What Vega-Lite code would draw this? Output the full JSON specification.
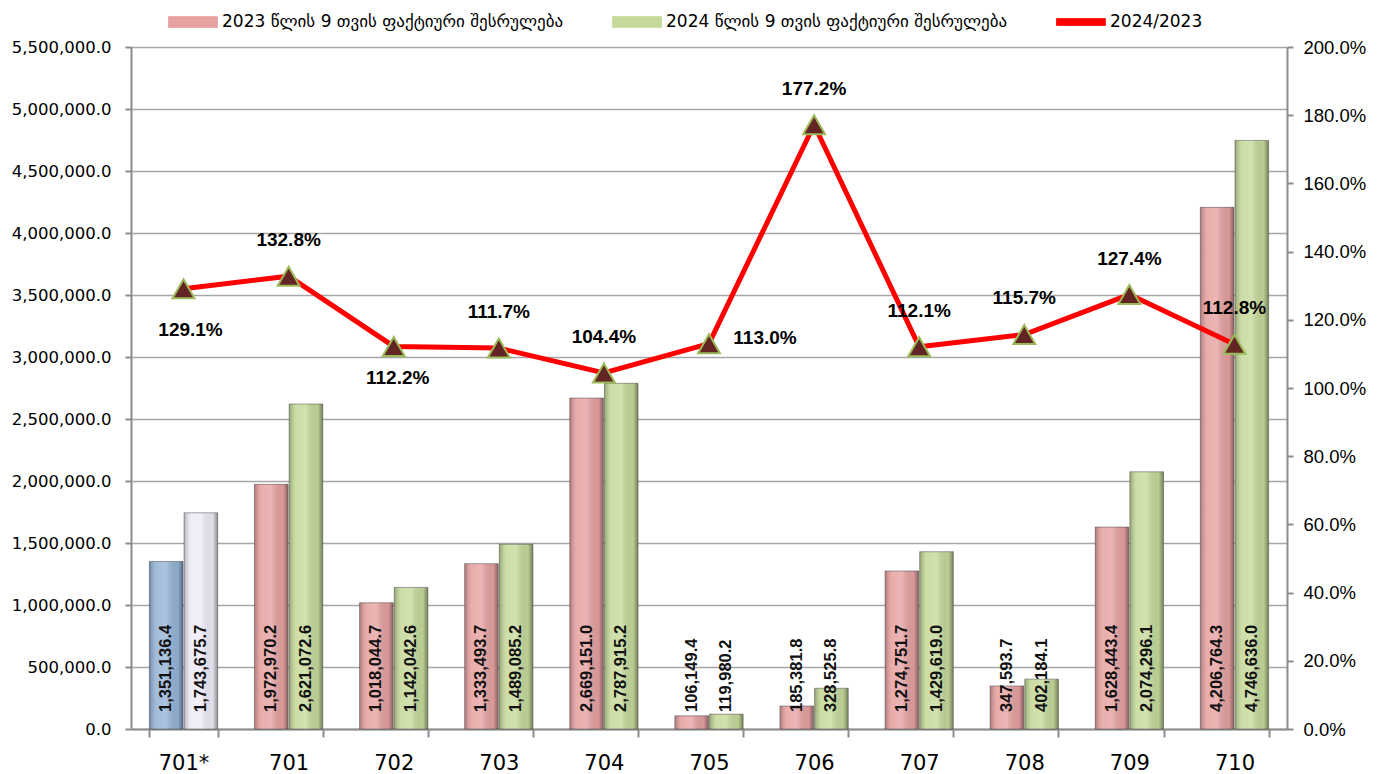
{
  "$schema": "https://vega.github.io/schema/vega-lite/v6.json",
  "width": 1156,
  "height": 682,
  "autosize": {"type": "none"},
  "padding": {"left": 131, "top": 47, "right": 98, "bottom": 45},
  "background": "white",
  "config": {"view": {"stroke": null}, "font": "Liberation Sans"},
  "datasets": {
    "bars": [
      {"cat": "701*", "year": "2023", "series": "701* 2023", "value": 1351136.4},
      {"cat": "701*", "year": "2024", "series": "701* 2024", "value": 1743675.7},
      {"cat": "701", "year": "2023", "series": "2023 წლის 9 თვის ფაქტიური შესრულება", "value": 1972970.2},
      {"cat": "701", "year": "2024", "series": "2024 წლის 9 თვის ფაქტიური შესრულება", "value": 2621072.6},
      {"cat": "702", "year": "2023", "series": "2023 წლის 9 თვის ფაქტიური შესრულება", "value": 1018044.7},
      {"cat": "702", "year": "2024", "series": "2024 წლის 9 თვის ფაქტიური შესრულება", "value": 1142042.6},
      {"cat": "703", "year": "2023", "series": "2023 წლის 9 თვის ფაქტიური შესრულება", "value": 1333493.7},
      {"cat": "703", "year": "2024", "series": "2024 წლის 9 თვის ფაქტიური შესრულება", "value": 1489085.2},
      {"cat": "704", "year": "2023", "series": "2023 წლის 9 თვის ფაქტიური შესრულება", "value": 2669151.0},
      {"cat": "704", "year": "2024", "series": "2024 წლის 9 თვის ფაქტიური შესრულება", "value": 2787915.2},
      {"cat": "705", "year": "2023", "series": "2023 წლის 9 თვის ფაქტიური შესრულება", "value": 106149.4},
      {"cat": "705", "year": "2024", "series": "2024 წლის 9 თვის ფაქტიური შესრულება", "value": 119980.2},
      {"cat": "706", "year": "2023", "series": "2023 წლის 9 თვის ფაქტიური შესრულება", "value": 185381.8},
      {"cat": "706", "year": "2024", "series": "2024 წლის 9 თვის ფაქტიური შესრულება", "value": 328525.8},
      {"cat": "707", "year": "2023", "series": "2023 წლის 9 თვის ფაქტიური შესრულება", "value": 1274751.7},
      {"cat": "707", "year": "2024", "series": "2024 წლის 9 თვის ფაქტიური შესრულება", "value": 1429619.0},
      {"cat": "708", "year": "2023", "series": "2023 წლის 9 თვის ფაქტიური შესრულება", "value": 347593.7},
      {"cat": "708", "year": "2024", "series": "2024 წლის 9 თვის ფაქტიური შესრულება", "value": 402184.1},
      {"cat": "709", "year": "2023", "series": "2023 წლის 9 თვის ფაქტიური შესრულება", "value": 1628443.4},
      {"cat": "709", "year": "2024", "series": "2024 წლის 9 თვის ფაქტიური შესრულება", "value": 2074296.1},
      {"cat": "710", "year": "2023", "series": "2023 წლის 9 თვის ფაქტიური შესრულება", "value": 4206764.3},
      {"cat": "710", "year": "2024", "series": "2024 წლის 9 თვის ფაქტიური შესრულება", "value": 4746636.0}
    ],
    "ratio": [
      {"cat": "701*", "ratio": 1.291},
      {"cat": "701", "ratio": 1.328},
      {"cat": "702", "ratio": 1.122},
      {"cat": "703", "ratio": 1.117},
      {"cat": "704", "ratio": 1.044},
      {"cat": "705", "ratio": 1.130},
      {"cat": "706", "ratio": 1.772},
      {"cat": "707", "ratio": 1.121},
      {"cat": "708", "ratio": 1.157},
      {"cat": "709", "ratio": 1.274},
      {"cat": "710", "ratio": 1.128}
    ]
  },
  "layer": [
    {
      "data": {"name": "bars"},
      "encoding": {
        "x": {
          "field": "cat", "type": "nominal", "sort": null,
          "scale": {"paddingInner": 0.35, "paddingOuter": 0.175},
          "axis": {
            "title": null, "labelAngle": 0, "labelFontSize": 21, "labelFont": "DejaVu Sans",
            "labelColor": "#000000", "tickBand": "extent", "tickSize": 8, "tickColor": "#8c8c8c",
            "tickWidth": 2, "domainColor": "#8c8c8c", "domainWidth": 2, "labelPadding": 15
          }
        },
        "xOffset": {"field": "year", "type": "nominal", "scale": {"paddingInner": 0.03}},
        "y": {
          "field": "value", "type": "quantitative",
          "scale": {"domain": [0, 5500000], "nice": false},
          "axis": {
            "title": null,
            "values": [0, 500000, 1000000, 1500000, 2000000, 2500000, 3000000, 3500000, 4000000, 4500000, 5000000, 5500000],
            "format": ",.1f", "labelFont": "DejaVu Sans", "labelFontSize": 16.5, "labelColor": "#000000",
            "grid": true, "gridColor": "#a6a6a6", "gridWidth": 1.5,
            "domainColor": "#8c8c8c", "domainWidth": 2, "tickColor": "#8c8c8c", "tickWidth": 2,
            "tickSize": 6, "labelPadding": 14
          }
        }
      },
      "layer": [
        {
          "mark": {"type": "bar"},
          "encoding": {
            "color": {
              "field": "series", "type": "nominal",
              "scale": {
                "domain": ["2023 წლის 9 თვის ფაქტიური შესრულება", "2024 წლის 9 თვის ფაქტიური შესრულება", "2024/2023", "701* 2023", "701* 2024"],
                "range": ["#E6A1A1", "#C5D99A", "#FF0000", "#95B3D7", "#EEEAF7"]
              },
              "legend": {
                "values": ["2023 წლის 9 თვის ფაქტიური შესრულება", "2024 წლის 9 თვის ფაქტიური შესრულება", "2024/2023"],
                "orient": "none", "legendX": 37, "legendY": -50, "direction": "horizontal",
                "title": null, "labelFont": "DejaVu Sans", "labelFontSize": 17, "labelColor": "#000000",
                "labelLimit": 600, "symbolSize": 2400, "columnPadding": 46, "labelOffset": 4,
                "encode": {
                  "symbols": {
                    "update": {
                      "shape": {"signal": "datum.value === '2024/2023' ? 'M-1,-0.14H1V0.14H-1Z' : 'M-1,-0.22H1V0.22H-1Z'"},
                      "fill": {"scale": "color", "field": "value"},
                      "stroke": {"value": "#808080"},
                      "strokeWidth": {"value": 0.8},
                      "opacity": {"value": 1}
                    }
                  }
                }
              }
            }
          }
        },
        {
          "mark": {
            "type": "bar",
            "fill": {
              "gradient": "linear", "x1": 0, "y1": 0, "x2": 1, "y2": 0,
              "stops": [
                {"offset": 0, "color": "rgba(0,0,0,0.25)"},
                {"offset": 0.2, "color": "rgba(255,255,255,0.12)"},
                {"offset": 0.5, "color": "rgba(255,255,255,0.22)"},
                {"offset": 0.85, "color": "rgba(0,0,0,0.05)"},
                {"offset": 1, "color": "rgba(0,0,0,0.4)"}
              ]
            },
            "stroke": "rgba(60,60,60,0.45)",
            "strokeWidth": 1
          }
        },
        {
          "mark": {
            "type": "text", "angle": 270, "align": "left", "baseline": "middle", "dx": 17,
            "fontSize": 16.5, "fontWeight": "bold", "color": "#111111", "font": "Liberation Sans"
          },
          "encoding": {
            "y": {"datum": 0, "type": "quantitative"},
            "text": {"field": "value", "type": "quantitative", "format": ",.1f"}
          }
        }
      ]
    },
    {
      "data": {"name": "ratio"},
      "encoding": {
        "x": {"field": "cat", "type": "nominal", "sort": null},
        "y": {
          "field": "ratio", "type": "quantitative",
          "scale": {"domain": [0, 2], "nice": false},
          "axis": {
            "orient": "right", "title": null,
            "values": [0, 0.2, 0.4, 0.6, 0.8, 1.0, 1.2, 1.4, 1.6, 1.8, 2.0],
            "format": ".1%", "labelFont": "Liberation Sans", "labelFontSize": 18.5, "labelColor": "#000000",
            "grid": false, "domainColor": "#8c8c8c", "domainWidth": 2, "tickColor": "#8c8c8c",
            "tickWidth": 2, "tickSize": 6, "labelPadding": 10
          }
        }
      },
      "layer": [
        {
          "mark": {"type": "line", "strokeWidth": 5},
          "encoding": {"color": {"datum": "2024/2023"}}
        },
        {
          "mark": {
            "type": "point", "shape": "triangle-up", "size": 480, "filled": true,
            "fill": "#632523", "stroke": "#9BBB59", "strokeWidth": 2, "opacity": 1
          }
        },
        {
          "transform": [{"filter": "datum.cat !== '701*' && datum.cat !== '702' && datum.cat !== '705'"}],
          "mark": {"type": "text", "fontSize": 19, "fontWeight": "bold", "baseline": "middle", "dy": -36, "color": "#000000"},
          "encoding": {"text": {"field": "ratio", "type": "quantitative", "format": ".1%"}}
        },
        {
          "transform": [{"filter": "datum.cat === '701*'"}],
          "mark": {"type": "text", "fontSize": 19, "fontWeight": "bold", "baseline": "middle", "dy": 41, "dx": 7, "color": "#000000"},
          "encoding": {"text": {"field": "ratio", "type": "quantitative", "format": ".1%"}}
        },
        {
          "transform": [{"filter": "datum.cat === '702'"}],
          "mark": {"type": "text", "fontSize": 19, "fontWeight": "bold", "baseline": "middle", "dy": 32, "dx": 4, "color": "#000000"},
          "encoding": {"text": {"field": "ratio", "type": "quantitative", "format": ".1%"}}
        },
        {
          "transform": [{"filter": "datum.cat === '705'"}],
          "mark": {"type": "text", "fontSize": 19, "fontWeight": "bold", "baseline": "middle", "dy": -6, "dx": 56, "color": "#000000"},
          "encoding": {"text": {"field": "ratio", "type": "quantitative", "format": ".1%"}}
        }
      ]
    }
  ],
  "resolve": {"scale": {"y": "independent"}}
}
